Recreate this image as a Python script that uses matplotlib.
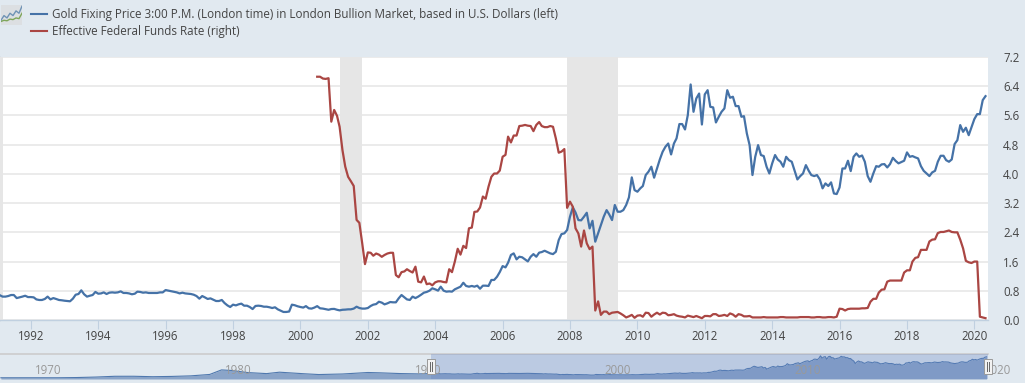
import pandas as pd
import matplotlib
matplotlib.use("Agg")
import matplotlib.pyplot as plt
import matplotlib.dates as mdates
from matplotlib.patches import Rectangle
from matplotlib.lines import Line2D

plt.rcParams['font.family'] = ['Open Sans', 'DejaVu Sans']

# gold fixing, USD, monthly from Feb 1991
gold_1991 = [369, 360, 360, 364, 371, 371, 350, 355, 360, 366, 357]
gold_1992 = [357, 355, 341, 337, 337, 344, 360, 341, 350, 344, 337, 335]
gold_1993 = [332, 330, 328, 346, 373, 378, 403, 376, 360, 366, 371, 392]
gold_1994 = [380, 382, 389, 378, 387, 389, 387, 389, 396, 385, 385, 382]
gold_1995 = [376, 380, 394, 392, 387, 389, 385, 385, 385, 385, 389, 389]
gold_1996 = [405, 401, 398, 394, 389, 382, 387, 382, 380, 378, 373, 364]
gold_1997 = [346, 364, 355, 344, 348, 339, 330, 330, 337, 316, 300, 289]
gold_1998 = [305, 300, 307, 312, 298, 298, 289, 275, 296, 298, 296, 291]
gold_1999 = [291, 287, 282, 287, 273, 264, 255, 255, 258, 305, 301, 294]
gold_2000 = [289, 285, 295, 280, 278, 285, 295, 280, 278, 274, 270, 275]
gold_2001 = [276, 270, 266, 270, 271, 273, 273, 278, 291, 282, 278, 278]
gold_2002 = [282, 296, 305, 309, 325, 319, 307, 314, 323, 321, 321, 348]
gold_2003 = [371, 355, 341, 337, 360, 350, 360, 373, 387, 392, 401, 417]
gold_2004 = [410, 401, 428, 401, 394, 396, 394, 410, 419, 428, 455, 433]
gold_2005 = [428, 433, 428, 435, 414, 435, 435, 433, 474, 474, 496, 528]
gold_2006 = [569, 560, 592, 645, 656, 615, 633, 629, 615, 601, 633, 651]
gold_2007 = [633, 661, 665, 674, 665, 656, 651, 667, 747, 788, 793, 816]
gold_2008 = [907, 971, 936, 884, 882, 907, 934, 827, 879, 736, 793, 850]
gold_2009 = [907, 952, 923, 884, 987, 941, 941, 952, 987, 1039, 1176, 1089]
gold_2010 = [1078, 1101, 1117, 1192, 1215, 1249, 1174, 1237, 1299, 1351, 1386, 1408]
gold_2011 = [1333, 1408, 1443, 1541, 1541, 1504, 1602, 1812, 1625, 1716, 1750, 1538]
gold_2012 = [1744, 1773, 1659, 1655, 1552, 1591, 1625, 1648, 1773, 1721, 1728, 1664]
gold_2013 = [1664, 1591, 1595, 1477, 1397, 1192, 1317, 1397, 1329, 1322, 1249, 1203]
gold_2014 = [1272, 1329, 1299, 1283, 1249, 1317, 1294, 1283, 1221, 1162, 1185, 1203]
gold_2015 = [1260, 1221, 1192, 1185, 1192, 1162, 1101, 1135, 1117, 1142, 1066, 1062]
gold_2016 = [1107, 1237, 1237, 1290, 1219, 1317, 1340, 1317, 1326, 1283, 1185, 1146]
gold_2017 = [1203, 1253, 1249, 1265, 1267, 1244, 1267, 1310, 1288, 1272, 1281, 1290]
gold_2018 = [1347, 1317, 1322, 1313, 1306, 1253, 1221, 1203, 1185, 1210, 1221, 1283]
gold_2019 = [1324, 1324, 1294, 1283, 1299, 1404, 1431, 1534, 1488, 1516, 1465, 1518]
gold_2020 = [1575, 1609, 1609, 1705, 1732]

# fed funds, percent, monthly from Jul 2000
fed_2000 = [6.66, 6.66, 6.61, 6.6, 6.62, 5.43]
fed_2001 = [5.75, 5.59, 5.29, 4.65, 4.2, 3.92, 3.8, 3.67, 2.74, 2.66, 2.1, 1.53]
fed_2002 = [1.85, 1.84, 1.76, 1.82, 1.79, 1.73, 1.78, 1.82, 1.84, 1.84, 1.23, 1.17]
fed_2003 = [1.31, 1.33, 1.39, 1.34, 1.3, 1.46, 1.05, 1.03, 1.19, 0.98, 1.0, 0.95]
fed_2004 = [1.03, 1.06, 1.06, 1.04, 1.03, 1.39, 1.31, 1.6, 1.95, 1.79, 2.03, 1.97]
fed_2005 = [2.51, 2.53, 2.96, 2.97, 3.08, 3.38, 3.32, 3.65, 3.92, 4.01, 4.01, 4.09]
fed_2006 = [4.47, 4.52, 5.02, 4.86, 5.05, 5.05, 5.31, 5.32, 5.34, 5.32, 5.31, 5.17]
fed_2007 = [5.34, 5.42, 5.31, 5.28, 5.28, 5.31, 5.29, 4.97, 4.58, 4.61, 4.68, 3.07]
fed_2008 = [3.24, 3.1, 2.51, 2.37, 2.01, 2.45, 2.1, 1.94, 2.01, 0.26, 0.51, 0.14]
fed_2009 = [0.23, 0.23, 0.16, 0.2, 0.21, 0.22, 0.18, 0.13, 0.07, 0.1, 0.14, 0.06]
fed_2010 = [0.12, 0.13, 0.09, 0.2, 0.19, 0.09, 0.15, 0.2, 0.15, 0.2, 0.19, 0.13]
fed_2011 = [0.14, 0.16, 0.12, 0.1, 0.09, 0.07, 0.12, 0.1, 0.08, 0.11, 0.08, 0.05]
fed_2012 = [0.11, 0.11, 0.1, 0.16, 0.16, 0.11, 0.12, 0.14, 0.11, 0.18, 0.15, 0.09]
fed_2013 = [0.16, 0.14, 0.1, 0.1, 0.11, 0.07, 0.07, 0.07, 0.07, 0.08, 0.07, 0.07]
fed_2014 = [0.07, 0.07, 0.07, 0.08, 0.08, 0.07, 0.07, 0.07, 0.07, 0.07, 0.08, 0.08]
fed_2015 = [0.08, 0.08, 0.07, 0.07, 0.08, 0.08, 0.07, 0.07, 0.08, 0.08, 0.07, 0.09]
fed_2016 = [0.31, 0.3, 0.26, 0.3, 0.31, 0.31, 0.31, 0.31, 0.32, 0.32, 0.33, 0.5]
fed_2017 = [0.58, 0.58, 0.75, 0.83, 0.84, 1.05, 1.08, 1.08, 1.08, 1.08, 1.08, 1.3]
fed_2018 = [1.36, 1.36, 1.6, 1.7, 1.72, 1.92, 1.92, 1.92, 2.15, 2.2, 2.21, 2.38]
fed_2019 = [2.41, 2.41, 2.43, 2.45, 2.41, 2.4, 2.4, 2.2, 1.96, 1.62, 1.58, 1.56]
fed_2020 = [1.6, 1.6, 0.09, 0.07, 0.05]

gold = (gold_1991 + gold_1992 + gold_1993 + gold_1994 + gold_1995 + gold_1996 + gold_1997
        + gold_1998 + gold_1999 + gold_2000 + gold_2001 + gold_2002 + gold_2003 + gold_2004
        + gold_2005 + gold_2006 + gold_2007 + gold_2008 + gold_2009 + gold_2010 + gold_2011
        + gold_2012 + gold_2013 + gold_2014 + gold_2015 + gold_2016 + gold_2017 + gold_2018
        + gold_2019 + gold_2020)
fed = (fed_2000 + fed_2001 + fed_2002 + fed_2003 + fed_2004 + fed_2005 + fed_2006 + fed_2007
       + fed_2008 + fed_2009 + fed_2010 + fed_2011 + fed_2012 + fed_2013 + fed_2014 + fed_2015
       + fed_2016 + fed_2017 + fed_2018 + fed_2019 + fed_2020)
gold_dates = pd.date_range("1991-02-01", periods=len(gold), freq="MS")
fed_dates = pd.date_range("2000-07-01", periods=len(fed), freq="MS")

recessions = [("1990-07-01", "1991-03-01"), ("2001-03-01", "2001-11-01"), ("2007-12-01", "2009-06-01")]
right_ticks = [0.0, 0.8, 1.6, 2.4, 3.2, 4.0, 4.8, 5.6, 6.4, 7.2]
year_ticks = list(range(1992, 2021, 2))

# gold before 1991, only the navigator shows it
early_dates = ["1968-06-01", "1970-01-01", "1971-06-01", "1972-06-01", "1973-06-01", "1974-06-01",
               "1975-06-01", "1976-06-01", "1977-06-01", "1978-06-01", "1979-06-01", "1980-01-15",
               "1980-08-01", "1981-06-01", "1982-06-01", "1983-02-01", "1984-06-01", "1985-03-01",
               "1986-06-01", "1987-10-01", "1988-06-01", "1989-06-01", "1990-06-01", "1991-01-01"]
early_gold = [39, 35, 40, 58, 97, 159, 161, 125, 148, 193, 307, 675,
              627, 460, 376, 490, 361, 300, 345, 465, 437, 381, 352, 375]
nav_years = [1970, 1980, 1990, 2000, 2010, 2020]

icon_blue = [1, 3, 2, 4, 3, 5, 4, 7]
icon_green = [0.5, 1, 0.8, 1.5, 1.3, 2, 1.7, 4]

BG = "#e1e9f0"
BLUE = "#4572a7"
RED = "#aa4643"
TXT = "#444444"
W, H = 1025, 383


def box(x0, y0, x1, y1):
    # pixel box (top-left origin) to figure fractions
    return [x0 / W, 1 - y1 / H, (x1 - x0) / W, (y1 - y0) / H]


fig = plt.figure(figsize=(W / 100, H / 100), dpi=100, facecolor=BG)

ax = fig.add_axes(box(0, 57, 988, 320))
ax.set_facecolor("white")
ax.set_xlim(pd.Timestamp("1991-02-01"), pd.Timestamp("2020-05-28"))
ax.set_ylim(200, 2000)
ax.set_yticks([200 + t * 250 for t in right_ticks])
ax.tick_params(axis="y", left=False, labelleft=False)
ax.grid(axis="y", color="#e6e6e6", lw=1.1)
ax.set_axisbelow(True)
for s in ["top", "left", "right"]:
    ax.spines[s].set_visible(False)
ax.spines["bottom"].set_color("#c0d0e0")
ax.spines["bottom"].set_linewidth(1.0)
ax.set_xticks([pd.Timestamp(f"{y}-01-01") for y in year_ticks])
ax.xaxis.set_major_formatter(mdates.DateFormatter("%Y"))
ax.tick_params(axis="x", length=6.5, width=0.8, color="#c0d0e0", labelcolor=TXT, labelsize=8.3, pad=1)

for a, b in recessions:
    ax.axvspan(pd.Timestamp(a), pd.Timestamp(b), color="#e6e6e6", lw=0, zorder=1)
ax.plot(gold_dates, gold, color=BLUE, lw=1.6, zorder=3)

ax2 = ax.twinx()
ax2.set_ylim(0, 7.2)
ax2.set_yticks(right_ticks)
ax2.set_yticklabels([f"{t:.1f}" for t in right_ticks])
ax2.tick_params(axis="y", right=False, length=0, labelcolor=TXT, labelsize=8.3, pad=11)
for s in ax2.spines.values():
    s.set_visible(False)
ax2.plot(fed_dates, fed, color=RED, lw=1.6, zorder=3)

# legend drawn by hand, it sits above the plot next to the icon
fig.add_artist(Line2D([31 / W, 47 / W], [1 - 14 / H] * 2, color=BLUE, lw=1.5))
fig.add_artist(Line2D([31 / W, 47 / W], [1 - 31 / H] * 2, color=RED, lw=1.5))
fig.text(52 / W, 1 - 14.5 / H, "Gold Fixing Price 3:00 P.M. (London time) in London Bullion Market, based in U.S. Dollars (left)",
         color=TXT, fontsize=8.35, va="center")
fig.text(52 / W, 1 - 31.5 / H, "Effective Federal Funds Rate (right)", color=TXT, fontsize=8.35, va="center")

# little chart icon
icon = fig.add_axes(box(1, 5, 22, 25))
icon.set_facecolor("#dcdfe2")
icon.plot(icon_blue, color="#6f93b5", lw=1.0)
icon.plot(icon_green, color="#7fa65a", lw=1.0)
icon.set_xlim(0, 7)
icon.set_ylim(-1, 7.5)
icon.axis("off")
icon.add_patch(Rectangle((0, 0), 1, 1, transform=icon.transAxes, color="#dcdfe2", zorder=0))

# navigator
nav = fig.add_axes(box(0, 354, 988, 379))
nav.set_facecolor(BG)
nav.set_xlim(pd.Timestamp("1968-05-15"), pd.Timestamp("2020-05-28"))
nav.set_ylim(-60, 1960)
all_dates = list(pd.to_datetime(early_dates)) + list(gold_dates)
all_gold = early_gold + gold
nav.fill_between(all_dates, all_gold, -60, color="#8aa4c8", lw=0, zorder=2)
nav.plot(all_dates, all_gold, color="#4f78ae", lw=0.8, zorder=3)
nav.axvspan(gold_dates[0], pd.Timestamp("2020-05-28"), color="#6685c2", alpha=0.3, lw=0, zorder=4)
for s in ["left", "right", "bottom"]:
    nav.spines[s].set_visible(False)
nav.spines["top"].set_color("#cccccc")
nav.spines["top"].set_linewidth(1.2)
nav.set_xticks([])
nav.set_yticks([])
for y in nav_years:
    nav.annotate(str(y), (pd.Timestamp(f"{y}-01-01"), 0), xytext=(3, 5.8), textcoords="offset points",
                 color="#999999", fontsize=8.3, va="center", zorder=5, annotation_clip=False,
                 xycoords=("data", "axes fraction"))

# navigator handles
for x0 in [427, 984]:
    fig.add_artist(Rectangle((x0 / W, 1 - 374 / H), 7.5 / W, 15 / H, facecolor="#f2f2f2", edgecolor="#999999", lw=0.7, zorder=6))
    for dx in [3, 5]:
        fig.add_artist(Line2D([(x0 + dx) / W] * 2, [1 - 371 / H, 1 - 362 / H], color="#666666", lw=0.7, zorder=7))

fig.savefig("out.png", dpi=100, facecolor=BG)
